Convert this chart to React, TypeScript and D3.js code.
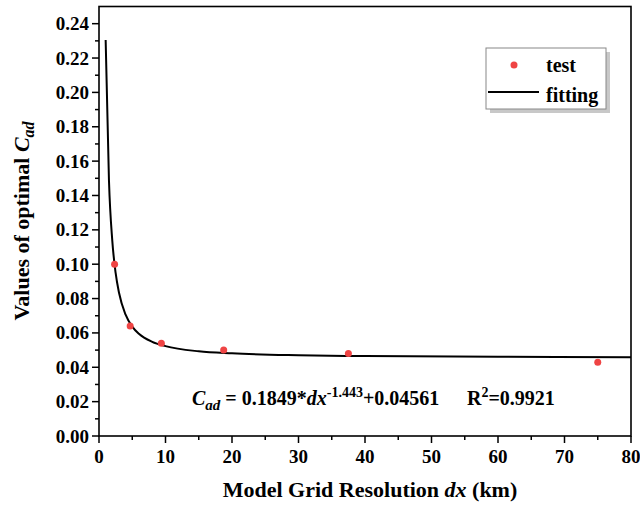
import React from "react";
import * as d3 from "d3";

const testDx = [2.34375, 4.6875, 9.375, 18.75, 37.5, 75];
const testVal = [0.1, 0.064, 0.054, 0.05, 0.048, 0.043];
const fitDx = [1, 1.5, 2, 2.5, 3, 4, 5, 6, 8, 10, 15, 20, 30, 40, 60, 80];
const fitVal = [0.2305, 0.1486, 0.1136, 0.0949, 0.0835, 0.0706, 0.0637, 0.0595, 0.0548, 0.0523, 0.0493, 0.0481, 0.047, 0.0465, 0.0461, 0.0459];
const xTicks = [0, 10, 20, 30, 40, 50, 60, 70, 80];
const yTicks = [0, 0.02, 0.04, 0.06, 0.08, 0.1, 0.12, 0.14, 0.16, 0.18, 0.2, 0.22, 0.24];

const W = 640, H = 505;
const L = 99, R = 631, T = 6.5, B = 436;
const F = { fontFamily: "Liberation Serif" };

export default function App() {
  const x = d3.scaleLinear().domain([0, 80]).range([L, R]);
  const y = d3.scaleLinear().domain([0, 0.25]).range([B, T]);
  const line = d3
    .line<number>()
    .x((_, i) => x(fitDx[i]))
    .y((d) => y(d))
    .curve(d3.curveMonotoneX);
  const xMinor = d3.range(5, 80, 10);
  const yMinor = d3.range(0.01, 0.25, 0.02);
  return (
    <svg width={W} height={H} style={{ position: "absolute", left: 0, top: 0, background: "#fff" }}>
      <rect x={0} y={0} width={W} height={H} fill="#fff" />
      {xTicks.map((t) => (
        <line key={"xt" + t} x1={x(t)} x2={x(t)} y1={B} y2={B + 7} stroke="#000" strokeWidth={1.5} />
      ))}
      {xMinor.map((t) => (
        <line key={"xm" + t} x1={x(t)} x2={x(t)} y1={B} y2={B + 4} stroke="#000" strokeWidth={1.5} />
      ))}
      {yTicks.map((t) => (
        <line key={"yt" + t} x1={L - 7} x2={L} y1={y(t)} y2={y(t)} stroke="#000" strokeWidth={1.5} />
      ))}
      {yMinor.map((t) => (
        <line key={"ym" + t} x1={L - 4} x2={L} y1={y(t)} y2={y(t)} stroke="#000" strokeWidth={1.5} />
      ))}
      {xTicks.map((t) => (
        <text key={"xl" + t} x={x(t)} y={463} textAnchor="middle" fontSize={19} fontWeight="bold" style={F}>
          {t}
        </text>
      ))}
      {yTicks.map((t) => (
        <text key={"yl" + t} x={89} y={y(t) + 6.5} textAnchor="end" fontSize={19} fontWeight="bold" style={F}>
          {t.toFixed(2)}
        </text>
      ))}
      <rect x={L} y={T} width={R - L} height={B - T} fill="none" stroke="#000" strokeWidth={1.6} />
      <path d={line(fitVal) || ""} fill="none" stroke="#000" strokeWidth={2} />
      {testVal.map((v, i) => (
        <circle key={"p" + i} cx={x(testDx[i])} cy={y(v)} r={3.5} fill="#ef4444" />
      ))}
      <text x={192} y={405} fontSize={20} fontWeight="bold" style={F}>
        <tspan fontStyle="italic">C</tspan>
        <tspan fontStyle="italic" fontSize={15} dy={5}>ad</tspan>
        <tspan dy={-5}> = 0.1849*</tspan>
        <tspan fontStyle="italic">dx</tspan>
        <tspan fontSize={14} dy={-8}>-1.443</tspan>
        <tspan dy={8}>+0.04561</tspan>
      </text>
      <text x={467} y={405} fontSize={20} fontWeight="bold" style={F}>
        <tspan>R</tspan>
        <tspan fontSize={14} dy={-8}>2</tspan>
        <tspan dy={8}>=0.9921</tspan>
      </text>
      <rect x={490} y={52} width={120} height={61} fill="#c8c8c8" />
      <rect x={486} y={48} width={120} height={61} fill="#fff" stroke="#888" strokeWidth={1} />
      <circle cx={514} cy={65} r={3.5} fill="#ef4444" />
      <text x={546} y={72} fontSize={20} fontWeight="bold" style={F}>test</text>
      <line x1={488} x2={539} y1={92} y2={92} stroke="#000" strokeWidth={2} />
      <text x={546} y={102} fontSize={20} fontWeight="bold" style={F}>fitting</text>
      <text x={370} y={497} textAnchor="middle" fontSize={22} fontWeight="bold" style={F}>
        Model Grid Resolution <tspan fontStyle="italic">dx</tspan> (km)
      </text>
      <text transform="translate(29,221) rotate(-90)" textAnchor="middle" fontSize={22} fontWeight="bold" style={F}>
        Values of optimal <tspan fontStyle="italic">C</tspan>
        <tspan fontStyle="italic" fontSize={16} dy={5}>ad</tspan>
      </text>
    </svg>
  );
}
